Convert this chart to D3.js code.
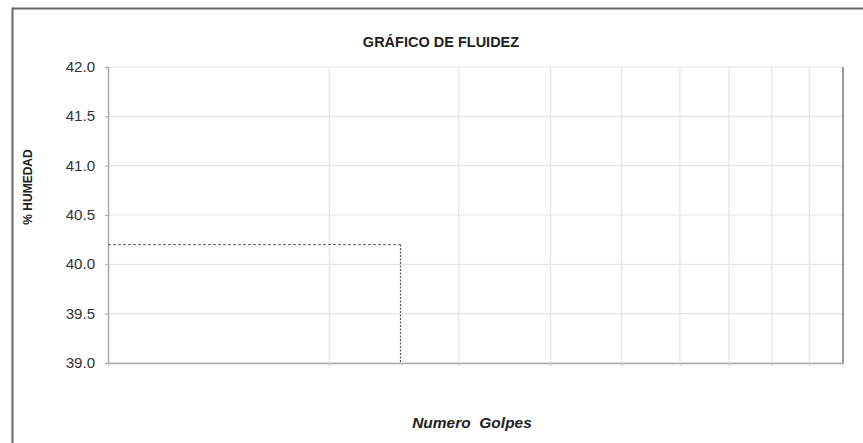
<!DOCTYPE html>
<html><head><meta charset="utf-8">
<script src="https://cdn.jsdelivr.net/npm/d3@7"></script>
<style>body{margin:0;background:#fff}svg{display:block}text{font-family:Arial,"Liberation Sans",sans-serif}</style>
</head><body><svg id="c" width="863" height="443"></svg>
<script>
const title = "GRÁFICO DE FLUIDEZ";
const yLabel = "% HUMEDAD";
const xLabel = "Numero  Golpes";
const yTicks = [39.0, 39.5, 40.0, 40.5, 41.0, 41.5, 42.0];
const xGrid = [20, 30, 40, 50, 60, 70, 80, 90];
const xDomain = [10, 100];
const yDomain = [39, 42];
const refGolpes = [25];
const refHumedad = [40.2];

const svg = d3.select("#c");
const L = 108, R = 843, T = 67, B = 363;
const x = d3.scaleLog().domain(xDomain).range([L, R]);
const y = d3.scaleLinear().domain(yDomain).range([B, T]);

// outer frame
svg.append("rect").attr("x", 12.5).attr("y", 8.5).attr("width", 900).attr("height", 500)
  .attr("fill", "none").attr("stroke", "#666").attr("stroke-width", 2);

// gridlines
svg.append("g").selectAll("line").data(yTicks).join("line")
  .attr("x1", L).attr("x2", R).attr("y1", d => y(d)).attr("y2", d => y(d))
  .attr("stroke", "#e4e4e4").attr("stroke-width", 1.2);
svg.append("g").selectAll("line").data(xGrid).join("line")
  .attr("x1", d => x(d)).attr("x2", d => x(d)).attr("y1", T).attr("y2", B)
  .attr("stroke", "#e4e4e4").attr("stroke-width", 1.2);

// y axis
const ya = svg.append("g").attr("transform", `translate(${L},0)`)
  .call(d3.axisLeft(y).tickValues(yTicks).tickFormat(d3.format(".1f")).tickSize(3).tickPadding(9));
ya.select(".domain").attr("stroke", "#aaa").attr("stroke-width", 1.5);
ya.selectAll(".tick line").attr("stroke", "#aaa");
ya.selectAll("text").attr("font-size", 14).attr("fill", "#333").attr("transform", "scale(1.08,1)");

// x axis
const xa = svg.append("g").attr("transform", `translate(0,${B})`)
  .call(d3.axisBottom(x).tickValues(xGrid.concat([10, 100])).tickFormat("").tickSize(3).tickSizeOuter(0));
xa.select(".domain").attr("stroke", "#aaa").attr("stroke-width", 1.5);
xa.selectAll(".tick line").attr("stroke", "#ccc");

// right border of plot
svg.append("line").attr("x1", R).attr("x2", R).attr("y1", T).attr("y2", B)
  .attr("stroke", "#777").attr("stroke-width", 1.5);

// reference dashed lines
refGolpes.forEach((g, i) => {
  const h = refHumedad[i];
  svg.append("line").attr("x1", L).attr("x2", x(g)).attr("y1", y(h)).attr("y2", y(h))
    .attr("stroke", "#666").attr("stroke-dasharray", "3,2").attr("stroke-width", 1);
  svg.append("line").attr("x1", x(g)).attr("x2", x(g)).attr("y1", y(h)).attr("y2", B)
    .attr("stroke", "#555").attr("stroke-dasharray", "2,1.5").attr("stroke-width", 1.2);
});

// title
svg.append("text").attr("x", 441).attr("y", 47).attr("text-anchor", "middle")
  .attr("font-size", 14.5).attr("font-weight", "bold").attr("fill", "#222").text(title);
// y label
svg.append("text").attr("transform", "translate(32,187) rotate(-90)").attr("text-anchor", "middle")
  .attr("font-size", 12).attr("font-weight", "bold").attr("fill", "#222").text(yLabel);
// x label
svg.append("text").attr("x", 472).attr("y", 428).attr("text-anchor", "middle").attr("xml:space", "preserve")
  .style("white-space", "pre")
  .attr("font-size", 15.5).attr("font-weight", "bold").attr("font-style", "italic").attr("fill", "#222").text(xLabel);
</script></body></html>
